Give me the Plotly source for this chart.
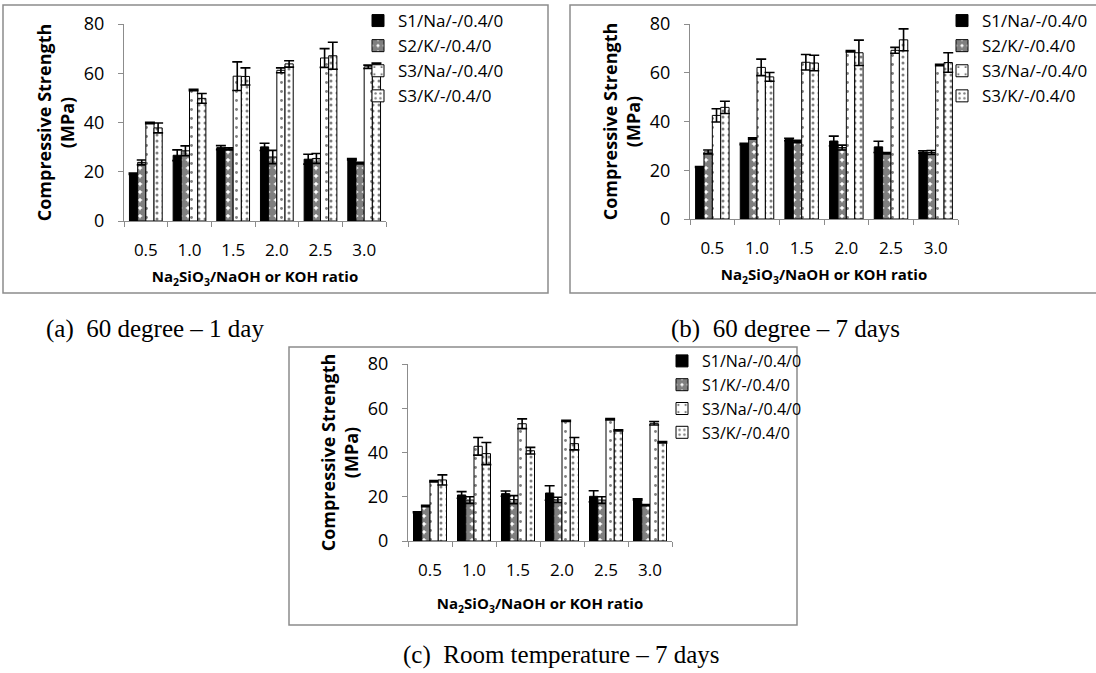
import plotly.graph_objects as go

W, H = 1096, 673

categories = ["0.5", "1.0", "1.5", "2.0", "2.5", "3.0"]

names_ab = ["S1/Na/-/0.4/0", "S2/K/-/0.4/0", "S3/Na/-/0.4/0", "S3/K/-/0.4/0"]
names_c = ["S1/Na/-/0.4/0", "S1/K/-/0.4/0", "S3/Na/-/0.4/0", "S3/K/-/0.4/0"]

# (a) 60 degree - 1 day
a_s1 = [19.2, 26.7, 29.8, 30.1, 25.1, 25.1]
a_s1_err = [0.3, 2.2, 0.8, 1.5, 2.0, 0.3]
a_s2 = [23.8, 28.5, 29.3, 26.0, 25.4, 23.5]
a_s2_err = [1.0, 2.0, 0.4, 2.7, 2.0, 0.3]
a_s3na = [39.8, 53.2, 58.8, 61.2, 66.2, 62.6]
a_s3na_err = [0.3, 0.3, 5.8, 1.0, 3.8, 0.7]
a_s3k = [37.8, 49.8, 58.7, 63.8, 67.1, 63.6]
a_s3k_err = [2.0, 2.0, 3.5, 1.3, 5.5, 0.5]

# (b) 60 degree - 7 days
b_s1 = [21.3, 30.8, 32.6, 32.0, 29.6, 27.5]
b_s1_err = [0.2, 0.3, 0.5, 2.0, 2.3, 0.5]
b_s2 = [27.5, 33.0, 31.8, 29.3, 27.0, 27.3]
b_s2_err = [0.8, 0.3, 0.5, 1.0, 0.3, 0.8]
b_s3na = [42.5, 62.2, 64.3, 68.8, 69.2, 63.2]
b_s3na_err = [2.7, 3.4, 3.2, 0.3, 1.2, 0.3]
b_s3k = [45.8, 58.3, 64.0, 68.2, 73.5, 64.2]
b_s3k_err = [2.5, 1.8, 3.2, 5.2, 4.5, 4.0]

# (c) Room temperature - 7 days
c_s1 = [13.0, 20.8, 21.4, 21.7, 20.2, 18.8]
c_s1_err = [0.2, 1.5, 1.2, 3.3, 2.5, 0.3]
c_s2 = [15.8, 18.5, 18.7, 18.6, 18.5, 16.2]
c_s2_err = [0.3, 1.5, 1.8, 1.2, 1.5, 0.3]
c_s3na = [27.0, 42.8, 53.0, 54.3, 55.0, 53.2]
c_s3na_err = [0.3, 4.0, 2.2, 0.3, 0.3, 0.8]
c_s3k = [27.6, 39.5, 40.8, 44.0, 50.0, 44.6]
c_s3k_err = [2.3, 5.0, 1.5, 2.8, 0.3, 0.3]

captions = ["(a)  60 degree \u2013 1 day", "(b)  60 degree \u2013 7 days",
            "(c)  Room temperature \u2013 7 days"]
y_title = "<b>Compressive Strength<br>(MPa)</b>"
x_title = "<b>Na<sub>2</sub>SiO<sub>3</sub>/NaOH or KOH ratio</b>"

patterns = [
    dict(shape="", bgcolor="black", fgcolor="black", solidity=1.0),
    dict(shape=".", bgcolor="white", fgcolor="black", size=8, solidity=0.8),
    dict(shape=".", bgcolor="white", fgcolor="black", size=9, solidity=0.08),
    dict(shape=".", bgcolor="white", fgcolor="black", size=6, solidity=0.2),
]
fills = ["black", "white", "white", "white"]

def px_x(p):
    return p / W

def px_y(p):
    return 1 - p / H

panels = [
    dict(key="", names=names_ab, vals=[a_s1, a_s2, a_s3na, a_s3k],
         errs=[a_s1_err, a_s2_err, a_s3na_err, a_s3k_err],
         xd=(124, 386), yd=(24, 221), leg=(358, 3), frame=(3, 5, 548, 293),
         cap=(155, 329), xstand=11, legsize=17),
    dict(key="2", names=names_ab, vals=[b_s1, b_s2, b_s3na, b_s3k],
         errs=[b_s1_err, b_s2_err, b_s3na_err, b_s3k_err],
         xd=(690, 958), yd=(24, 219), leg=(942, 3), frame=(570, 5, 1110, 293),
         cap=(785, 329), xstand=11, legsize=17),
    dict(key="3", names=names_c, vals=[c_s1, c_s2, c_s3na, c_s3k],
         errs=[c_s1_err, c_s2_err, c_s3na_err, c_s3k_err],
         xd=(408, 672), yd=(364, 541), leg=(662, 344), frame=(289, 347, 797, 625),
         cap=(561, 655), xstand=18, legsize=16),
]

fig = go.Figure()
layout = dict(
    width=W, height=H, margin=dict(l=0, r=0, t=0, b=0, autoexpand=False),
    paper_bgcolor="white", plot_bgcolor="white",
    barmode="group", bargap=0.25, bargroupgap=0.0,
    showlegend=True, shapes=[], annotations=[],
    font=dict(family="Open Sans", color="black"),
)

for p in panels:
    k = p["key"]
    legname = "legend" + k
    for i in range(4):
        fig.add_trace(go.Bar(
            x=categories, y=p["vals"][i], name=p["names"][i],
            xaxis="x" + k, yaxis="y" + k, legend=legname,
            legendgroup="g" + k + str(i),
            marker=dict(color=fills[i], line=dict(color="black", width=1),
                        pattern=patterns[i]),
            error_y=dict(type="data", array=p["errs"][i], visible=True,
                         color="black", thickness=1.6, width=5),
        ))
    layout["xaxis" + k] = dict(
        domain=[px_x(p["xd"][0]), px_x(p["xd"][1])], anchor="y" + k,
        type="category", showline=True, linecolor="#8c8c8c", linewidth=1,
        ticks="outside", tickson="boundaries", ticklen=5, tickcolor="#8c8c8c",
        showgrid=False, tickfont=dict(size=17, color="black"),
        ticklabelstandoff=14,
        title=dict(text=x_title, font=dict(size=15, color="black"),
                   standoff=p["xstand"]),
    )
    layout["yaxis" + k] = dict(
        domain=[px_y(p["yd"][1]), px_y(p["yd"][0])], anchor="x" + k,
        range=[0, 80], dtick=20, showline=True, linecolor="#8c8c8c", linewidth=1,
        ticks="outside", ticklen=5, tickcolor="#8c8c8c", showgrid=False,
        zeroline=False, tickfont=dict(size=18, color="black"),
        ticklabelstandoff=10,
        title=dict(text=y_title, font=dict(size=18, color="black"), standoff=4),
    )
    layout[legname] = dict(
        x=px_x(p["leg"][0]), y=px_y(p["leg"][1]), xanchor="left", yanchor="top",
        xref="paper", yref="paper", bgcolor="rgba(0,0,0,0)",
        font=dict(size=p["legsize"], color="black"), tracegroupgap=0,
        itemwidth=30,
    )
    x0, y0, x1, y1 = p["frame"]
    layout["shapes"].append(dict(
        type="rect", xref="paper", yref="paper",
        x0=px_x(x0), x1=px_x(x1), y0=px_y(y1), y1=px_y(y0),
        line=dict(color="#8c8c8c", width=1.5), fillcolor="rgba(0,0,0,0)",
        layer="below",
    ))

for p, cap in zip(panels, captions):
    layout["annotations"].append(dict(
        text=cap, xref="paper", yref="paper", x=px_x(p["cap"][0]), y=px_y(p["cap"][1]),
        xanchor="center", yanchor="middle", showarrow=False,
        font=dict(family="Liberation Serif", size=25, color="black"),
    ))

fig.update_layout(**layout)
fig.write_html(
    "out.html",
    config={"displayModeBar": False},
    post_script="document.body.style.margin='0';document.body.style.overflow='hidden';",
)
